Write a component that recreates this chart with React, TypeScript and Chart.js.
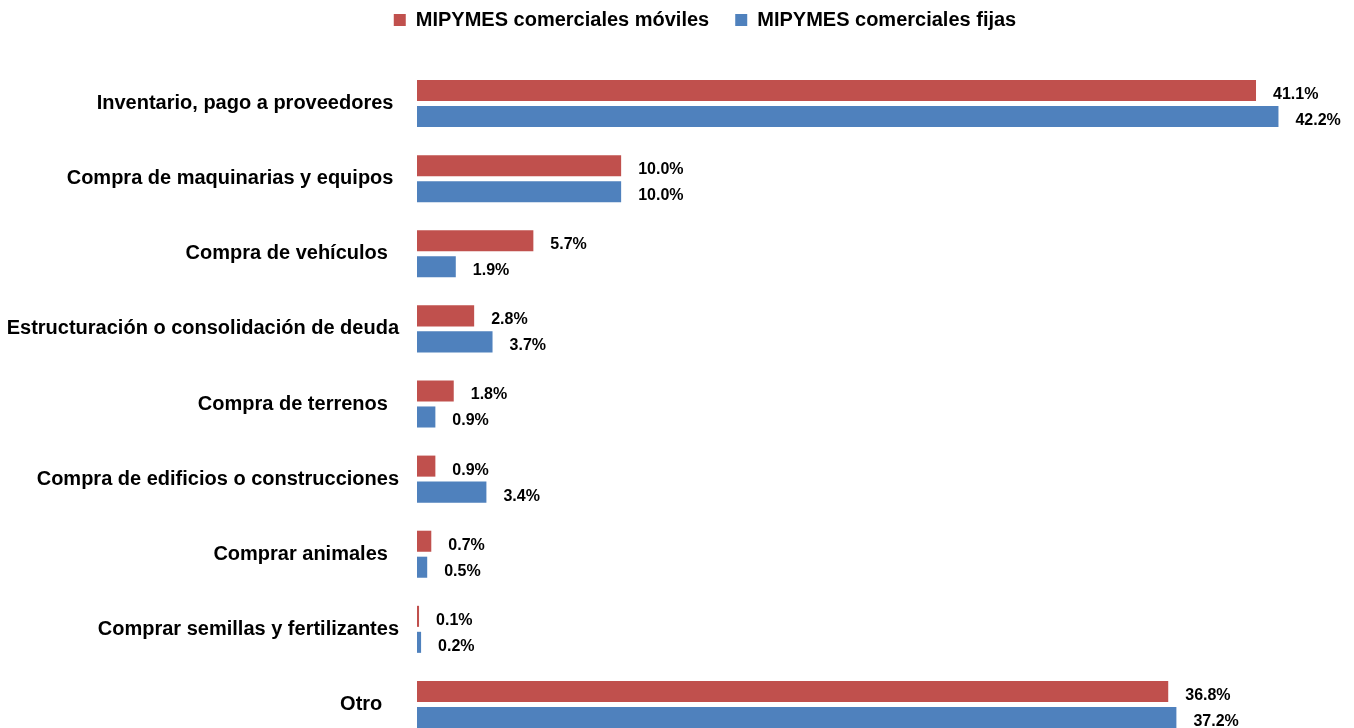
import React, { useEffect, useRef } from "react";
import { Chart, registerables } from "chart.js";

Chart.register(...registerables);

const categories = [
  "Inventario, pago a proveedores ",
  "Compra de maquinarias y equipos ",
  "Compra de vehículos  ",
  "Estructuración o consolidación de deuda",
  "Compra de terrenos  ",
  "Compra de edificios o construcciones",
  "Comprar animales  ",
  "Comprar semillas y fertilizantes",
  "Otro   ",
];

const seriesNames = ["MIPYMES comerciales móviles", "MIPYMES comerciales fijas"];
const movilesValues = [41.1, 10.0, 5.7, 2.8, 1.8, 0.9, 0.7, 0.1, 36.8];
const fijasValues = [42.2, 10.0, 1.9, 3.7, 0.9, 3.4, 0.5, 0.2, 37.2];
const seriesColors = ["#C0504D", "#4F81BD"];
const xAxisMax = 45.9;

const FONT = "'Liberation Sans', Arial, sans-serif";

const valueLabelPlugin = {
  id: "valueLabels",
  afterDatasetsDraw(chart: any) {
    const ctx = chart.ctx;
    ctx.save();
    ctx.font = `bold 16px ${FONT}`;
    ctx.fillStyle = "#000";
    ctx.textAlign = "left";
    ctx.textBaseline = "middle";
    chart.data.datasets.forEach((ds: any, di: number) => {
      const meta = chart.getDatasetMeta(di);
      meta.data.forEach((bar: any, i: number) => {
        const v = ds.data[i] as number;
        ctx.fillText(v.toFixed(1) + "%", bar.x + 17, bar.y + 4);
      });
    });
    ctx.restore();
  },
};

const legendFitPlugin = {
  id: "legendFit",
  beforeInit(chart: any) {
    const legend = chart.legend;
    if (!legend) return;
    const orig = legend.fit;
    legend.fit = function () {
      orig.bind(legend)();
      this.height = 82;
    };
  },
};

export default function App() {
  const ref = useRef<HTMLCanvasElement | null>(null);
  useEffect(() => {
    if (!ref.current) return;
    const chart = new Chart(ref.current, {
      type: "bar",
      data: {
        labels: categories,
        datasets: [
          {
            label: seriesNames[0],
            data: movilesValues,
            backgroundColor: seriesColors[0],
            categoryPercentage: 0.692,
            barPercentage: 0.81,
          },
          {
            label: seriesNames[1],
            data: fijasValues,
            backgroundColor: seriesColors[1],
            categoryPercentage: 0.692,
            barPercentage: 0.81,
          },
        ],
      },
      options: {
        indexAxis: "y",
        responsive: false,
        animation: false,
        devicePixelRatio: 1,
        layout: { padding: { left: 0, right: -56, top: -16, bottom: 0 } },
        plugins: {
          legend: {
            position: "top",
            labels: {
              boxWidth: 12,
              boxHeight: 12,
              padding: 26,
              color: "#000",
              font: { family: FONT, size: 20, weight: "bold" },
            },
          },
          tooltip: { enabled: false },
        },
        scales: {
          x: { display: false, min: 0, max: xAxisMax },
          y: {
            grid: { display: false, drawTicks: false },
            border: { display: false },
            ticks: {
              color: "#000",
              padding: 18,
              font: { family: FONT, size: 20, weight: "bold" },
            },
            afterFit(scale: any) {
              scale.width = 417;
              scale.paddingTop = 0;
              scale.paddingBottom = 0;
            },
          },
        },
      },
      plugins: [valueLabelPlugin, legendFitPlugin],
    } as any);
    return () => chart.destroy();
  }, []);
  return (
    <div
      style={{
        position: "fixed",
        left: 0,
        top: 0,
        width: 1354,
        height: 728,
        overflow: "hidden",
        background: "#fff",
      }}
    >
      <canvas ref={ref} width={1354} height={742} style={{ display: "block" }} />
    </div>
  );
}
